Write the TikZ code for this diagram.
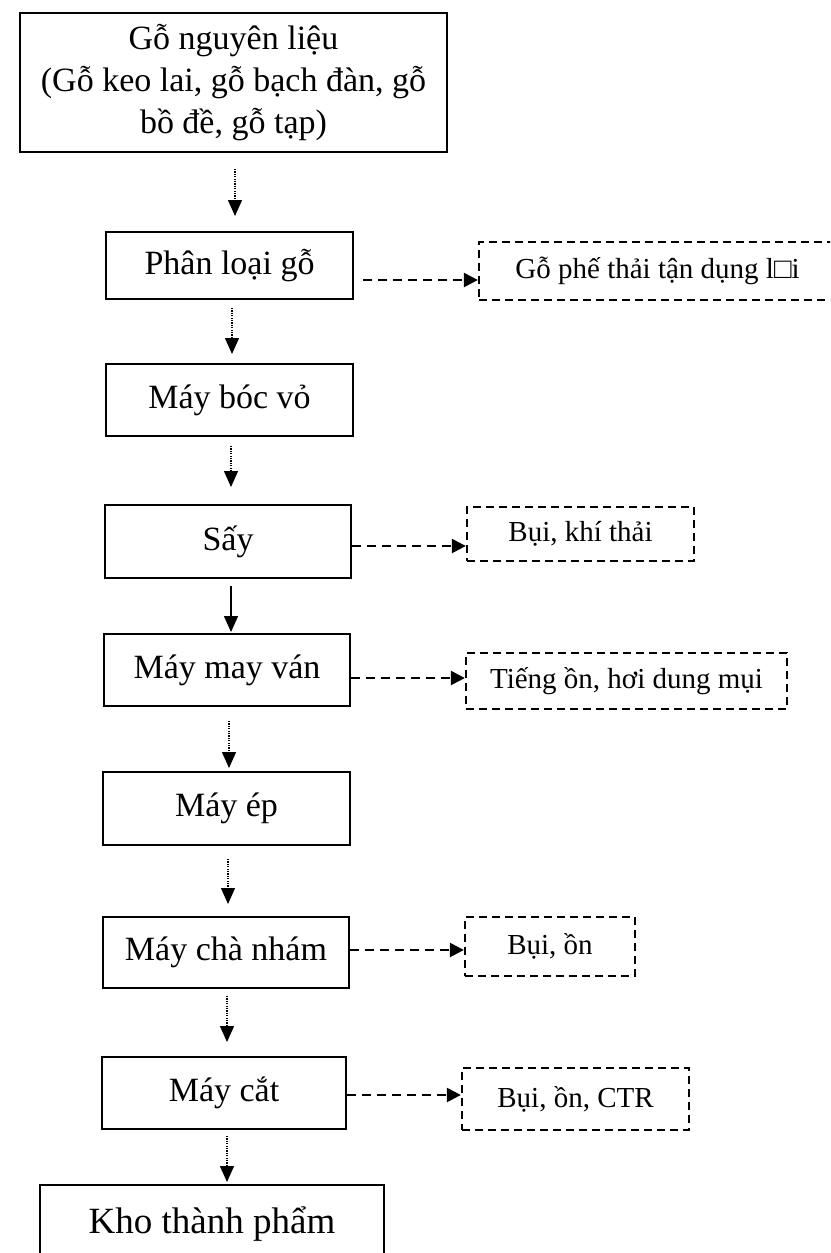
\documentclass[tikz,border=0pt]{standalone}
\usepackage{fontspec}
\setmainfont{Liberation Serif}
\usetikzlibrary{arrows.meta}
\begin{document}
\begin{tikzpicture}[x=1pt,y=-1pt,
  proc/.style={draw, line width=2pt, minimum width=246pt, minimum height=72pt, inner sep=0pt, font=\fontsize{34}{42}\selectfont},
  outbox/.style={draw, line width=2.3pt, dash pattern=on 8pt off 5pt, inner sep=0pt, font=\fontsize{29}{35}\selectfont},
  flow/.style={line width=1.4pt, dash pattern=on 1.2pt off 1.2pt, -{Triangle[width=14pt,length=16pt]}},
  solidflow/.style={line width=1.4pt, -{Triangle[width=14pt,length=16pt]}},
  emit/.style={line width=2.4pt, dash pattern=on 9pt off 6pt, -{Triangle[width=14pt,length=14pt]}}
]
\useasboundingbox (0,0) rectangle (830,1253);
\clip (0,0) rectangle (830,1253);
\fill[white] (0,0) rectangle (830,1253);

% main column
\node[proc, minimum width=427pt, minimum height=139pt, align=center] (top) at (233.5,82.5)
  {Gỗ nguyên liệu\\(Gỗ keo lai, gỗ bạch đàn, gỗ\\bồ đề, gỗ tạp)};
\node[proc, minimum width=247pt, minimum height=67pt] (phan) at (229.5,265.5) {Phân loại gỗ};
\node[proc, minimum width=247pt, minimum height=72pt] (boc) at (229.5,400) {Máy bóc vỏ};
\node[proc, minimum width=246pt, minimum height=73pt] (say) at (228,541.5) {Sấy};
\node[proc, minimum width=246pt, minimum height=72pt] (van) at (227,670) {Máy may ván};
\node[proc, minimum width=247pt, minimum height=73pt] (ep) at (226.5,808.5) {Máy ép};
\node[proc, minimum width=246pt, minimum height=71pt] (cha) at (226,952.5) {Máy chà nhám};
\node[proc, minimum width=244pt, minimum height=72pt] (cat) at (224,1093) {Máy cắt};
\node[proc, minimum width=344pt, minimum height=100pt, font=\fontsize{37}{44}\selectfont] (kho) at (212,1235) {\raisebox{30pt}{Kho thành phẩm}};

% side (dashed) boxes
\node[outbox, minimum width=357pt, minimum height=58pt] (d1) at (657.5,271) {Gỗ phế thải tận dụng l□i};
\node[outbox, minimum width=227pt, minimum height=54pt] (d2) at (580.5,534) {Bụi, khí thải};
\node[outbox, minimum width=321pt, minimum height=56pt] (d3) at (626.5,681) {Tiếng ồn, hơi dung mụi};
\node[outbox, minimum width=170pt, minimum height=59pt] (d4) at (550,946.5) {Bụi, ồn};
\node[outbox, minimum width=227pt, minimum height=62pt] (d5) at (575.5,1099) {Bụi, ồn, CTR};

% vertical flow arrows
\draw[flow, shorten <=16pt, shorten >=15pt] ([xshift=1.5pt]top.south) -- ([xshift=1.5pt]top.south |- phan.north);
\draw[flow, shorten <=8pt, shorten >=9pt] ([xshift=2.5pt]phan.south) -- ([xshift=2.5pt]phan.south |- boc.north);
\draw[flow, shorten <=9pt, shorten >=17pt] ([xshift=1.5pt]boc.south) -- ([xshift=1.5pt]boc.south |- say.north);
\draw[solidflow, shorten <=7pt, shorten >=1pt] ([xshift=3pt]say.south) -- ([xshift=3pt]say.south |- van.north);
\draw[flow, shorten <=14pt, shorten >=3pt] ([xshift=2pt]van.south) -- ([xshift=2pt]van.south |- ep.north);
\draw[flow, shorten <=13pt, shorten >=12pt] ([xshift=1.5pt]ep.south) -- ([xshift=1.5pt]ep.south |- cha.north);
\draw[flow, shorten <=7pt, shorten >=14pt] ([xshift=1pt]cha.south) -- ([xshift=1pt]cha.south |- cat.north);
\draw[flow, shorten <=6pt, shorten >=2pt] ([xshift=3pt]cat.south) -- ([xshift=3pt]cat.south |- kho.north);

% emission arrows
\draw[emit, shorten <=9pt] ([yshift=-14.5pt]phan.east) -- ([yshift=-14.5pt]phan.east -| d1.west);
\draw[emit] ([yshift=-4.5pt]say.east) -- ([yshift=-4.5pt]say.east -| d2.west);
\draw[emit] ([yshift=-8pt]van.east) -- ([yshift=-8pt]van.east -| d3.west);
\draw[emit] ([yshift=2.5pt]cha.east) -- ([yshift=2.5pt]cha.east -| d4.west);
\draw[emit] ([yshift=-2pt]cat.east) -- ([yshift=-2pt]cat.east -| d5.west);
\end{tikzpicture}
\end{document}
